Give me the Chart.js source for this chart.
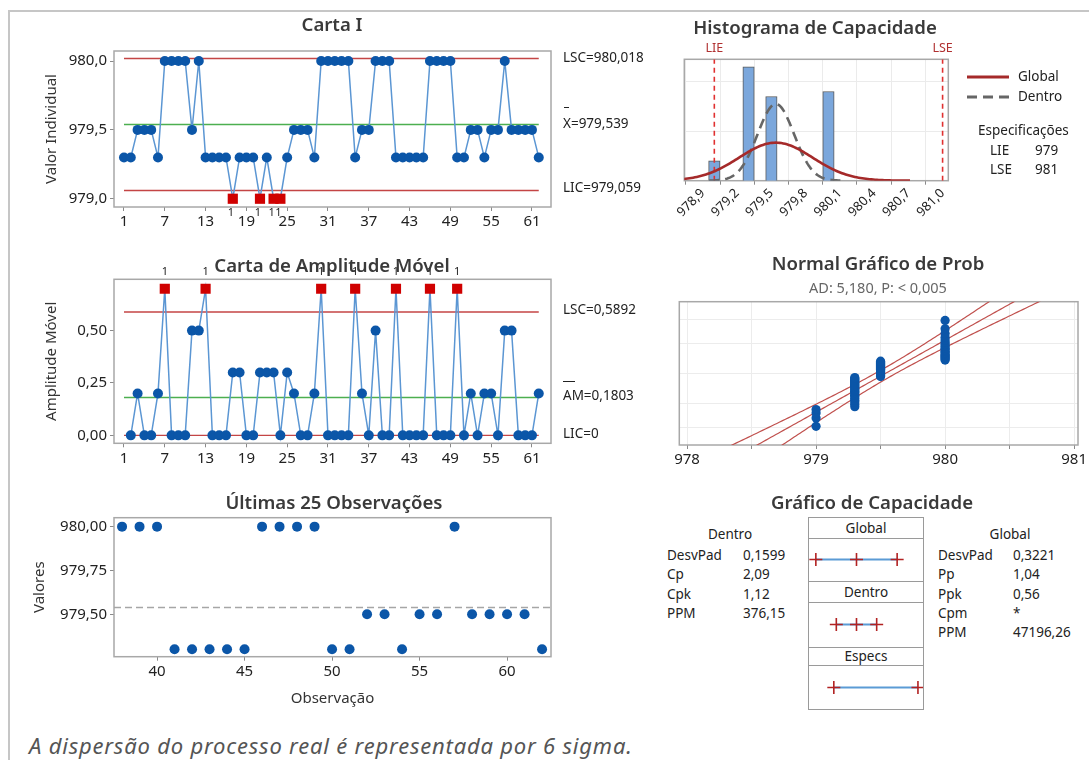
<!DOCTYPE html>
<html lang="pt">
<head>
<meta charset="utf-8">
<title>Relatório de Capacidade Sixpack</title>
<script src="https://cdn.jsdelivr.net/npm/chart.js@4.4.1/dist/chart.umd.min.js"></script>
<style>
  html, body { margin: 0; padding: 0; }
  body { width: 1089px; height: 760px; position: relative; overflow: hidden; background: #fff;
         font-family: 'Noto Sans', 'Open Sans', sans-serif; color: #333; }
  canvas { position: absolute; }
  .t { position: absolute; white-space: nowrap; line-height: 1; }
  .c { transform: translate(-50%, -50%); }
  .l { transform: translateY(-50%); }
  .titulo { font-size: 18.6px; font-weight: 600; color: #3a3a3a; }
  .lbl { font-size: 13.5px; color: #222; }
  .linha { position: absolute; height: 0; border-top: 1px solid #9a9a9a; }
</style>
</head>
<body>
<div style="position:absolute;left:8px;top:10px;width:1081px;border-top:2px solid #c6c6c6"></div>
<div style="position:absolute;left:8px;top:10px;height:750px;border-left:2px solid #c6c6c6"></div>

<canvas id="cartaI"></canvas>
<canvas id="cartaAM"></canvas>
<canvas id="ultimas"></canvas>
<canvas id="histograma"></canvas>
<canvas id="probabilidade"></canvas>

<div class="t c titulo" style="left:332px;top:24px">Carta I</div>
<div class="t c titulo" style="left:332px;top:265px">Carta de Amplitude Móvel</div>
<div class="t c titulo" style="left:334px;top:502px">Últimas 25 Observações</div>
<div class="t c titulo" style="left:815px;top:27px">Histograma de Capacidade</div>
<div class="t c titulo" style="left:878px;top:263px">Normal Gráfico de Prob</div>
<div class="t c" style="left:878px;top:287px;font-size:14.5px;color:#666">AD: 5,180, P: &lt; 0,005</div>
<div class="t c titulo" style="left:872px;top:502px">Gráfico de Capacidade</div>

<div class="t l lbl" style="left:563px;top:58px">LSC=980,018</div>
<div style="position:absolute;left:564px;top:107px;width:5px;border-top:1px solid #222"></div>
<div class="t l lbl" style="left:563px;top:124px">X=979,539</div>
<div class="t l lbl" style="left:563px;top:188px">LIC=979,059</div>
<div class="t l lbl" style="left:563px;top:310px">LSC=0,5892</div>
<div style="position:absolute;left:563px;top:381px;width:12px;border-top:1px solid #222"></div>
<div class="t l lbl" style="left:563px;top:396px">AM=0,1803</div>
<div class="t l lbl" style="left:563px;top:434px">LIC=0</div>

<svg style="position:absolute;left:965px;top:70px" width="46" height="34">
  <line x1="2" y1="7" x2="44" y2="7" stroke="#a52a2a" stroke-width="3"/>
  <line x1="2" y1="27" x2="44" y2="27" stroke="#666" stroke-width="3" stroke-dasharray="10,6"/>
</svg>
<div class="t l lbl" style="left:1018px;top:77px">Global</div>
<div class="t l lbl" style="left:1018px;top:97px">Dentro</div>
<div class="t l lbl" style="left:978px;top:131px">Especificações</div>
<div class="t l lbl" style="left:990px;top:151px">LIE</div>
<div class="t l lbl" style="left:1035px;top:151px">979</div>
<div class="t l lbl" style="left:990px;top:170px">LSE</div>
<div class="t l lbl" style="left:1035px;top:170px">981</div>

<div id="tabelas"></div>

<div style="position:absolute;left:808px;top:517px;width:116px;height:193px;border:1px solid #9a9a9a;box-sizing:border-box"></div>
<div class="linha" style="left:808px;top:538px;width:116px"></div>
<div class="linha" style="left:808px;top:581px;width:116px"></div>
<div class="linha" style="left:808px;top:602px;width:116px"></div>
<div class="linha" style="left:808px;top:647px;width:116px"></div>
<div class="linha" style="left:808px;top:665px;width:116px"></div>
<div class="t c lbl" style="left:866px;top:529px">Global</div>
<div class="t c lbl" style="left:866px;top:593px">Dentro</div>
<div class="t c lbl" style="left:866px;top:657px">Especs</div>
<canvas id="capGlobal"></canvas>
<canvas id="capDentro"></canvas>
<canvas id="capEspecs"></canvas>

<div class="t l" style="left:29px;top:745px;font-size:22px;letter-spacing:0.8px;font-style:italic;color:#555">A dispersão do processo real é representada por 6 sigma.</div>

<script>
// ---- dados ----
const valorIndividual = [979.3, 979.3, 979.5, 979.5, 979.5, 979.3, 980.0, 980.0, 980.0, 980.0,
  979.5, 980.0, 979.3, 979.3, 979.3, 979.3, 979.0, 979.3, 979.3, 979.3,
  979.0, 979.3, 979.0, 979.0, 979.3, 979.5, 979.5, 979.5, 979.3, 980.0,
  980.0, 980.0, 980.0, 980.0, 979.3, 979.5, 979.5, 980.0, 980.0, 980.0,
  979.3, 979.3, 979.3, 979.3, 979.3, 980.0, 980.0, 980.0, 980.0, 979.3,
  979.3, 979.5, 979.5, 979.3, 979.5, 979.5, 980.0, 979.5, 979.5, 979.5,
  979.5, 979.3];
const amplitudeMovel = [null, 0, 0.2, 0, 0, 0.2, 0.7, 0, 0, 0,
  0.5, 0.5, 0.7, 0, 0, 0, 0.3, 0.3, 0, 0,
  0.3, 0.3, 0.3, 0, 0.3, 0.2, 0, 0, 0.2, 0.7,
  0, 0, 0, 0, 0.7, 0.2, 0, 0.5, 0, 0,
  0.7, 0, 0, 0, 0, 0.7, 0, 0, 0, 0.7,
  0, 0.2, 0, 0.2, 0.2, 0, 0.5, 0.5, 0, 0,
  0, 0.2];
const falhasI = [17, 21, 23, 24];
const falhasAM = [7, 13, 30, 35, 41, 46, 50];
const ticksObs = [1, 7, 13, 19, 25, 31, 37, 43, 49, 55, 61];
const ticksUltimas = [40, 45, 50, 55, 60];
const primeiraUltima = 38;
const classesHist = [979.0, 979.3, 979.5, 980.0];
const contagensHist = [4, 23, 17, 18];
const ticksHist = [978.9, 979.2, 979.5, 979.8, 980.1, 980.4, 980.7, 981.0];
const ticksProbX = [978, 978.5, 979, 979.5, 980, 980.5, 981];
const percentisProb = [1, 10, 50, 90, 99];
const media = 979.539, dpDentro = 0.1599, dpGlobal = 0.3221;
const lscI = 980.018, licI = 979.059;
const lscAM = 0.5892, mediaAM = 0.1803, licAM = 0;
const LIE = 979, LSE = 981;
const larguraClasse = 0.1;
const nomesDentro = ['DesvPad', 'Cp', 'Cpk', 'PPM'];
const valoresDentro = ['0,1599', '2,09', '1,12', '376,15'];
const nomesGlobal = ['DesvPad', 'Pp', 'Ppk', 'Cpm', 'PPM'];
const valoresGlobal = ['0,3221', '1,04', '0,56', '*', '47196,26'];

// cores
const AZUL = '#0b56a8', AZUL_LINHA = '#5b96d3', VERMELHO = '#d00000';
const LIMITE = '#c44545', VERDE = '#4caf50';

Chart.defaults.font.family = '"Noto Sans", "Open Sans", sans-serif';
Chart.defaults.color = '#222';
Chart.defaults.plugins.legend.display = false;
Chart.defaults.plugins.tooltip.enabled = false;

const n = valorIndividual.length;
const virgula = d => v => v.toFixed(d).replace('.', ',');

// tabelas de estatísticas
const tabelas = document.getElementById('tabelas');
function texto(t, x, y, cls) {
  const d = document.createElement('div');
  d.className = 't lbl ' + cls;
  d.style.left = x + 'px'; d.style.top = y + 'px';
  d.textContent = t;
  tabelas.appendChild(d);
}
texto('Dentro', 730, 535, 'c');
nomesDentro.forEach((nm, i) => { texto(nm, 667, 556 + i * 19.3, 'l'); texto(valoresDentro[i], 743, 556 + i * 19.3, 'l'); });
texto('Global', 1010, 535, 'c');
nomesGlobal.forEach((nm, i) => { texto(nm, 938, 556 + i * 19.3, 'l'); texto(valoresGlobal[i], 1013, 556 + i * 19.3, 'l'); });

// plugins
const moldura = {
  id: 'moldura',
  beforeDatasetsDraw(chart) {
    const a = chart.chartArea, ctx = chart.ctx;
    ctx.save();
    ctx.strokeStyle = '#a8a8a8'; ctx.lineWidth = 1.5;
    ctx.strokeRect(a.left, a.top, a.right - a.left, a.bottom - a.top);
    ctx.restore();
  }
};
const rotulosFalha = {
  id: 'rotulosFalha',
  afterDatasetsDraw(chart, args, opts) {
    if (!opts.obs) return;
    const ctx = chart.ctx, a = chart.chartArea, x = chart.scales.x;
    ctx.save();
    ctx.font = '11px "Noto Sans"'; ctx.fillStyle = '#222';
    ctx.textAlign = 'center'; ctx.textBaseline = 'middle';
    const y = opts.acima ? a.top - 7 : a.bottom + 6;
    opts.obs.forEach(o => ctx.fillText('1', x.getPixelForValue(o) + (opts.dx || 0), y));
    ctx.restore();
  }
};
const rotulosEspec = {
  id: 'rotulosEspec',
  afterDraw(chart) {
    const ctx = chart.ctx, a = chart.chartArea, x = chart.scales.x;
    ctx.save();
    ctx.font = '12.5px "Noto Sans"'; ctx.fillStyle = '#b03030';
    ctx.textAlign = 'center'; ctx.textBaseline = 'middle';
    ctx.fillText('LIE', x.getPixelForValue(LIE), a.top - 11);
    ctx.fillText('LSE', x.getPixelForValue(LSE), a.top - 11);
    ctx.restore();
  }
};
Chart.register(moldura, rotulosFalha);

function montarGrafico(id, caixa, area, padEsq, config) {
  const cv = document.getElementById(id);
  cv.width = caixa[2]; cv.height = caixa[3];
  cv.style.left = caixa[0] + 'px'; cv.style.top = caixa[1] + 'px';
  const o = config.options;
  o.responsive = false;
  o.animation = false;
  o.layout = { autoPadding: false, padding: { left: padEsq, top: area[1] - caixa[1], right: caixa[0] + caixa[2] - area[2], bottom: 0 } };
  o.scales.x.afterFit = s => { s.height = caixa[1] + caixa[3] - area[3]; };
  o.scales.y.afterFit = s => { s.width = area[0] - caixa[0] - padEsq; };
  return new Chart(cv, config);
}

const marcas = { drawOnChartArea: false, drawTicks: true, tickLength: 4, tickColor: '#8a8a8a', color: '#8a8a8a' };
const fonteTick = { size: 15 };
const fixarTicks = lista => s => { s.ticks = lista.map(v => ({ value: v })); };
const horizontal = (x0, x1, y, cor, largura, tracos) => ({
  data: [{ x: x0, y: y }, { x: x1, y: y }], showLine: true, borderColor: cor,
  borderWidth: largura, pointRadius: 0, borderDash: tracos || []
});

// ---- Carta I ----
const pontosI = valorIndividual.map((v, i) => ({ x: i + 1, y: v }));
const falhaI = pontosI.map(p => falhasI.includes(p.x));
montarGrafico('cartaI', [0, 0, 660, 240], [114, 51, 551, 207], 39, {
  type: 'scatter',
  data: { datasets: [
    { data: pontosI, showLine: true, borderColor: AZUL_LINHA, borderWidth: 1.5,
      pointStyle: falhaI.map(f => f ? 'rect' : 'circle'),
      pointRadius: falhaI.map(f => f ? 7.2 : 5),
      pointBackgroundColor: falhaI.map(f => f ? VERMELHO : AZUL),
      pointBorderColor: falhaI.map(f => f ? VERMELHO : AZUL), pointBorderWidth: 0 },
    horizontal(1, n, lscI, LIMITE, 1.5),
    horizontal(1, n, media, VERDE, 1.5),
    horizontal(1, n, licI, LIMITE, 1.5)
  ] },
  options: {
    plugins: { rotulosFalha: { obs: falhasI, dx: -2 } },
    scales: {
      x: { type: 'linear', min: -0.47, max: 63.8, afterBuildTicks: fixarTicks(ticksObs),
           ticks: { autoSkip: false, maxRotation: 0, padding: 2, font: fonteTick }, grid: marcas, border: { display: false } },
      y: { min: 978.94, max: 980.073, afterBuildTicks: fixarTicks([979, 979.5, 980]),
           ticks: { callback: virgula(1), padding: 3, font: fonteTick }, grid: marcas, border: { display: false },
           title: { display: true, text: 'Valor Individual', font: { size: 15 }, color: '#333' } }
    }
  }
});

// ---- Carta de Amplitude Móvel ----
const pontosAM = amplitudeMovel.map((v, i) => ({ x: i + 1, y: v })).filter(p => p.y !== null);
const falhaAM = pontosAM.map(p => falhasAM.includes(p.x));
montarGrafico('cartaAM', [0, 240, 660, 240], [114, 279.3, 551, 443.3], 39, {
  type: 'scatter',
  data: { datasets: [
    { data: pontosAM, showLine: true, borderColor: AZUL_LINHA, borderWidth: 1.5,
      pointStyle: falhaAM.map(f => f ? 'rect' : 'circle'),
      pointRadius: falhaAM.map(f => f ? 7.2 : 5),
      pointBackgroundColor: falhaAM.map(f => f ? VERMELHO : AZUL),
      pointBorderColor: falhaAM.map(f => f ? VERMELHO : AZUL), pointBorderWidth: 0 },
    horizontal(1, n, lscAM, LIMITE, 1.5),
    horizontal(1, n, mediaAM, VERDE, 1.5),
    horizontal(1, n, licAM, LIMITE, 1.2)
  ] },
  options: {
    plugins: { rotulosFalha: { obs: falhasAM, acima: true, dx: 0 } },
    scales: {
      x: { type: 'linear', min: -0.47, max: 63.8, afterBuildTicks: fixarTicks(ticksObs),
           ticks: { autoSkip: false, maxRotation: 0, padding: 2, font: fonteTick }, grid: marcas, border: { display: false } },
      y: { min: -0.038, max: 0.745, afterBuildTicks: fixarTicks([0, 0.25, 0.5]),
           ticks: { callback: virgula(2), padding: 3, font: fonteTick }, grid: marcas, border: { display: false },
           title: { display: true, text: 'Amplitude Móvel', font: { size: 15 }, color: '#333' } }
    }
  }
});

// ---- Últimas 25 Observações ----
const pontosUlt = pontosI.filter(p => p.x >= primeiraUltima);
const xMinU = 37.54, xMaxU = 62.51;
montarGrafico('ultimas', [0, 480, 660, 232], [114, 517.7, 551, 656.7], 27, {
  type: 'scatter',
  data: { datasets: [
    { data: pontosUlt, pointRadius: 5, pointBackgroundColor: AZUL, pointBorderColor: AZUL, pointBorderWidth: 0 },
    horizontal(xMinU, xMaxU, media, '#a6a6a6', 1.5, [7, 4])
  ] },
  options: {
    scales: {
      x: { type: 'linear', min: xMinU, max: xMaxU, afterBuildTicks: fixarTicks(ticksUltimas),
           ticks: { autoSkip: false, maxRotation: 0, padding: 2, font: fonteTick }, grid: marcas, border: { display: false },
           title: { display: true, text: 'Observação', font: { size: 15 }, color: '#333', padding: { top: 2, bottom: 4 } } },
      y: { min: 979.258, max: 980.051, afterBuildTicks: fixarTicks([979.5, 979.75, 980]),
           ticks: { callback: virgula(2), padding: 3, font: fonteTick }, grid: marcas, border: { display: false },
           title: { display: true, text: 'Valores', font: { size: 15 }, color: '#333' } }
    }
  }
});

// ---- Histograma de Capacidade ----
const densidade = (x, m, s) => Math.exp(-0.5 * ((x - m) / s) ** 2) / (s * Math.sqrt(2 * Math.PI));
function curvaNormal(s) {
  const pts = [];
  for (let k = -73; k <= 73; k++) {
    const x = media + k * s / 20;
    pts.push({ x: x, y: densidade(x, media, s) * n * larguraClasse });
  }
  return pts;
}
const xMinH = 978.737, xMaxH = 981.05, areaH = [684.3, 59.3, 948.3, 180.7], yMaxH = 24.5;
montarGrafico('histograma', [660, 0, 429, 240], areaH, 0, {
  type: 'bar',
  data: { datasets: [
    { type: 'line', data: curvaNormal(dpGlobal), borderColor: '#a52a2a', borderWidth: 2.6, pointRadius: 0, tension: 0 },
    { type: 'line', data: curvaNormal(dpDentro), borderColor: '#666', borderWidth: 2.6, borderDash: [10, 6], pointRadius: 0 },
    { type: 'line', data: [{ x: LIE, y: 0 }, { x: LIE, y: yMaxH }], borderColor: '#e03030', borderWidth: 1.6, borderDash: [5, 4], pointRadius: 0 },
    { type: 'line', data: [{ x: LSE, y: 0 }, { x: LSE, y: yMaxH }], borderColor: '#e03030', borderWidth: 1.6, borderDash: [5, 4], pointRadius: 0 },
    { type: 'bar', data: classesHist.map((c, i) => ({ x: c, y: contagensHist[i] })),
      backgroundColor: '#7ba7dc', borderColor: '#5a5a5a', borderWidth: 1,
      barThickness: (areaH[2] - areaH[0]) / (xMaxH - xMinH) * larguraClasse }
  ] },
  plugins: [rotulosEspec],
  options: {
    scales: {
      x: { type: 'linear', min: xMinH, max: xMaxH, afterBuildTicks: fixarTicks(ticksHist), offset: false,
           ticks: { autoSkip: false, minRotation: 45, maxRotation: 45, padding: 1, callback: virgula(1), font: { size: 13 } },
           grid: { color: '#ebebeb', drawTicks: true, tickLength: 4, tickColor: '#8a8a8a' }, border: { display: false } },
      y: { min: 0, max: yMaxH, afterBuildTicks: fixarTicks([10, 20]),
           ticks: { display: false }, grid: { color: '#ebebeb', drawTicks: false }, border: { display: false } }
    }
  }
});

// ---- Normal Gráfico de Prob ----
function invNorm(p) {
  const a = [-3.969683028665376e+01, 2.209460984245205e+02, -2.759285104469687e+02, 1.383577518672690e+02, -3.066479806614716e+01, 2.506628277459239e+00];
  const b = [-5.447609879822406e+01, 1.615858368580409e+02, -1.556989798598866e+02, 6.680131188771972e+01, -1.328068155288572e+01];
  const c = [-7.784894002430293e-03, -3.223964580411365e-01, -2.400758277161838e+00, -2.549732539343734e+00, 4.374664141464968e+00, 2.938163982698783e+00];
  const d = [7.784695709041462e-03, 3.224671290700398e-01, 2.445134137142996e+00, 3.754408661907416e+00];
  const pl = 0.02425;
  let q, r;
  if (p < pl) {
    q = Math.sqrt(-2 * Math.log(p));
    return (((((c[0] * q + c[1]) * q + c[2]) * q + c[3]) * q + c[4]) * q + c[5]) / ((((d[0] * q + d[1]) * q + d[2]) * q + d[3]) * q + 1);
  }
  if (p > 1 - pl) {
    q = Math.sqrt(-2 * Math.log(1 - p));
    return -(((((c[0] * q + c[1]) * q + c[2]) * q + c[3]) * q + c[4]) * q + c[5]) / ((((d[0] * q + d[1]) * q + d[2]) * q + d[3]) * q + 1);
  }
  q = p - 0.5; r = q * q;
  return (((((a[0] * r + a[1]) * r + a[2]) * r + a[3]) * r + a[4]) * r + a[5]) * q / (((((b[0] * r + b[1]) * r + b[2]) * r + b[3]) * r + b[4]) * r + 1);
}
const ordenados = [...valorIndividual].sort((p, q) => p - q);
const pontosProb = ordenados.map((v, i) => ({ x: v, y: invNorm((i + 1 - 0.3) / (n + 0.4)) }));
const ajuste = [], icInf = [], icSup = [];
for (let k = -52; k <= 52; k++) {
  const z = k * 0.06;
  const meio = 1.96 * dpGlobal * Math.sqrt(1 / n + z * z / (2 * (n - 1)));
  ajuste.push({ x: media + z * dpGlobal, y: z });
  icInf.push({ x: media + z * dpGlobal - meio, y: z });
  icSup.push({ x: media + z * dpGlobal + meio, y: z });
}
const linhaProb = dados => ({ data: dados, showLine: true, borderColor: '#c0504d', borderWidth: 1.2, pointRadius: 0 });
montarGrafico('probabilidade', [660, 290, 440, 190], [679.3, 301.7, 1078, 445], 0, {
  type: 'scatter',
  data: { datasets: [
    { data: pontosProb, pointRadius: 4.6, pointBackgroundColor: AZUL, pointBorderColor: AZUL, pointBorderWidth: 0 },
    linhaProb(ajuste), linhaProb(icInf), linhaProb(icSup)
  ] },
  options: {
    scales: {
      x: { type: 'linear', min: 977.94, max: 981.03, afterBuildTicks: fixarTicks(ticksProbX),
           ticks: { autoSkip: false, maxRotation: 0, padding: 2, font: { size: 15 },
                    callback: v => Number.isInteger(v) ? String(v) : '' },
           grid: { color: '#ececec', drawTicks: true, tickLength: 4, tickColor: '#8a8a8a' }, border: { display: false } },
      y: { min: -3.09, max: 3.09, afterBuildTicks: fixarTicks(percentisProb.map(p => invNorm(p / 100))),
           ticks: { display: false }, grid: { color: '#ececec', drawTicks: false }, border: { display: false } }
    }
  }
});

// ---- Gráfico de Capacidade ----
function linhaCapacidade(id, caixa, valores) {
  const cv = document.getElementById(id);
  cv.width = caixa[2]; cv.height = caixa[3];
  cv.style.left = caixa[0] + 'px'; cv.style.top = caixa[1] + 'px';
  new Chart(cv, {
    type: 'scatter',
    data: { datasets: [{
      data: valores.map(v => ({ x: v, y: 0 })), showLine: true, clip: false,
      borderColor: '#5b9bd5', borderWidth: 2,
      pointStyle: 'cross', pointRadius: 6.5, pointBorderColor: '#b22222', pointBorderWidth: 1.6
    }] },
    options: {
      responsive: false, animation: false,
      layout: { autoPadding: false, padding: 0 },
      plugins: { moldura: false },
      scales: { x: { type: 'linear', min: 978.41, max: 981.12, display: false },
                y: { min: -1, max: 1, display: false } }
    }
  });
}
linhaCapacidade('capGlobal', [809, 539, 114, 41], [media - 3 * dpGlobal, media, media + 3 * dpGlobal]);
linhaCapacidade('capDentro', [809, 603, 114, 43], [media - 3 * dpDentro, media, media + 3 * dpDentro]);
linhaCapacidade('capEspecs', [809, 666, 114, 43], [LIE, LSE]);
</script>
</body>
</html>
